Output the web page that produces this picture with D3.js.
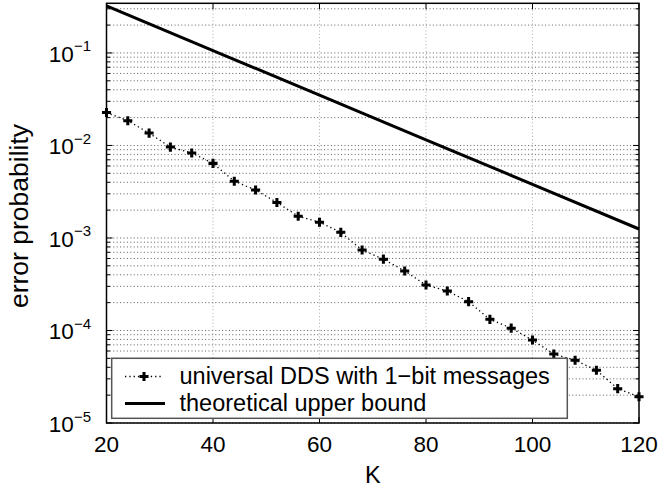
<!DOCTYPE html>
<html>
<head>
<meta charset="utf-8">
<script src="https://cdn.jsdelivr.net/npm/d3@7"></script>
<style>
  body { margin: 0; background: #fff; }
  text { font-family: "Liberation Sans", Arial, Helvetica, sans-serif; fill: #000; }
</style>
</head>
<body>
<svg id="chart"></svg>
<script>
const width = 659;
const height = 495;

const kValues = [20, 24, 28, 32, 36, 40, 44, 48, 52, 56, 60, 64, 68, 72, 76, 80, 84, 88, 92, 96, 100, 104, 108, 112, 116, 120];
const ddsError = [0.0227, 0.0185, 0.0136, 0.0096, 0.0083, 0.0064, 0.0041, 0.0033, 0.00242, 0.00172, 0.00148, 0.00115,
  0.00074, 0.00059, 0.00044, 0.00031, 0.000267, 0.000205, 0.000132, 0.000106, 0.0000788, 0.0000557, 0.0000477,
  0.0000372, 0.0000235, 0.0000192];

// theoretical upper bound
const boundK = [20, 40, 60, 80, 100, 120];
const boundError = [0.322, 0.106, 0.035, 0.0115, 0.0038, 0.00125];

const xTicks = [20, 40, 60, 80, 100, 120];
const yDecades = [-5, -4, -3, -2, -1];
const legendLabels = ["universal DDS with 1\u2212bit messages", "theoretical upper bound"];

const plot = { left: 106.5, right: 639, top: 3.3, bottom: 423 };

const svg = d3.select("#chart").attr("width", width).attr("height", height);

const x = d3.scaleLinear().domain([20, 120]).range([plot.left, plot.right]);
const y = d3.scaleLog().domain([1e-5, 0.344]).range([plot.bottom, plot.top]);

// minor values for the log grid
const minorVals = [];
yDecades.forEach((d) => {
  for (let m = 1; m <= 9; m++) {
    const v = m * Math.pow(10, d);
    if (v <= 0.344) minorVals.push(v);
  }
});

const grid = svg.append("g");
grid.selectAll(".ygrid")
  .data(minorVals)
  .join("line")
  .attr("x1", plot.left).attr("x2", plot.right)
  .attr("y1", (d) => y(d)).attr("y2", (d) => y(d))
  .attr("stroke", "#333")
  .attr("stroke-width", 0.8)
  .attr("stroke-dasharray", "1,2.4");

grid.selectAll(".xgrid")
  .data(xTicks.slice(1, -1))
  .join("line")
  .attr("x1", (d) => x(d)).attr("x2", (d) => x(d))
  .attr("y1", plot.top).attr("y2", plot.bottom)
  .attr("stroke", "#999")
  .attr("stroke-width", 0.8)
  .attr("stroke-dasharray", "1,2.4");

// ticks (inside, on all four sides)
const ticks = svg.append("g").attr("stroke", "#000").attr("stroke-width", 1);
xTicks.forEach((t) => {
  ticks.append("line").attr("x1", x(t)).attr("x2", x(t)).attr("y1", plot.bottom).attr("y2", plot.bottom - 6);
  ticks.append("line").attr("x1", x(t)).attr("x2", x(t)).attr("y1", plot.top).attr("y2", plot.top + 6);
});
minorVals.forEach((v) => {
  const major = Math.abs(Math.log10(v) - Math.round(Math.log10(v))) < 1e-9;
  const len = major ? 6 : 3.5;
  ticks.append("line").attr("x1", plot.left).attr("x2", plot.left + len).attr("y1", y(v)).attr("y2", y(v));
  ticks.append("line").attr("x1", plot.right).attr("x2", plot.right - len).attr("y1", y(v)).attr("y2", y(v));
});

// frame
svg.append("rect")
  .attr("x", plot.left).attr("y", plot.top)
  .attr("width", plot.right - plot.left).attr("height", plot.bottom - plot.top)
  .attr("fill", "none").attr("stroke", "#000").attr("stroke-width", 1.5);

// theoretical bound
const line = d3.line().x((d) => x(d[0])).y((d) => y(d[1]));
svg.append("path")
  .attr("d", line(d3.zip(boundK, boundError)))
  .attr("fill", "none").attr("stroke", "#000").attr("stroke-width", 3);

// DDS series
const ddsData = d3.zip(kValues, ddsError);
svg.append("path")
  .attr("d", line(ddsData))
  .attr("fill", "none").attr("stroke", "#000").attr("stroke-width", 1.3)
  .attr("stroke-dasharray", "1.3,3");

const plus = d3.symbol().type(d3.symbolCross).size(46);
svg.selectAll(".mark")
  .data(ddsData)
  .join("path")
  .attr("transform", (d) => `translate(${x(d[0])},${y(d[1])})`)
  .attr("d", plus)
  .attr("fill", "#000");

// x tick labels
svg.selectAll(".xlab")
  .data(xTicks)
  .join("text")
  .attr("x", (d) => x(d))
  .attr("y", 452)
  .attr("text-anchor", "middle")
  .attr("font-size", 22.5)
  .text((d) => d);

// y tick labels: 10^n
yDecades.forEach((d) => {
  const t = svg.append("text")
    .attr("x", 91)
    .attr("y", y(Math.pow(10, d)) + 9)
    .attr("text-anchor", "end")
    .attr("font-size", 22.5);
  t.append("tspan").text("10");
  t.append("tspan").attr("dy", -10.5).attr("font-size", 15).text("\u2212" + Math.abs(d));
});

// axis titles
svg.append("text")
  .attr("x", (plot.left + plot.right) / 2)
  .attr("y", 483)
  .attr("text-anchor", "middle")
  .attr("font-size", 23.5)
  .text("K");

svg.append("text")
  .attr("transform", "translate(28,216) rotate(-90)")
  .attr("text-anchor", "middle")
  .attr("font-size", 26.5)
  .text("error probability");

// legend
const lg = svg.append("g");
lg.append("rect")
  .attr("x", 111.7).attr("y", 358.3)
  .attr("width", 455.6).attr("height", 60)
  .attr("fill", "#fff").attr("stroke", "#555").attr("stroke-width", 1.5);

const rowsY = [376.5, 403.5];
lg.append("line")
  .attr("x1", 125).attr("x2", 163).attr("y1", rowsY[0]).attr("y2", rowsY[0])
  .attr("stroke", "#000").attr("stroke-width", 1.3).attr("stroke-dasharray", "1.3,3");
lg.append("path")
  .attr("transform", `translate(144,${rowsY[0]})`)
  .attr("d", plus).attr("fill", "#000");
lg.append("line")
  .attr("x1", 125).attr("x2", 165).attr("y1", rowsY[1]).attr("y2", rowsY[1])
  .attr("stroke", "#000").attr("stroke-width", 3);

lg.selectAll(".ltext")
  .data(legendLabels)
  .join("text")
  .attr("x", 179.5)
  .attr("y", (d, i) => rowsY[i] + 7.5)
  .attr("font-size", 23.5)
  .text((d) => d);
</script>
</body>
</html>
